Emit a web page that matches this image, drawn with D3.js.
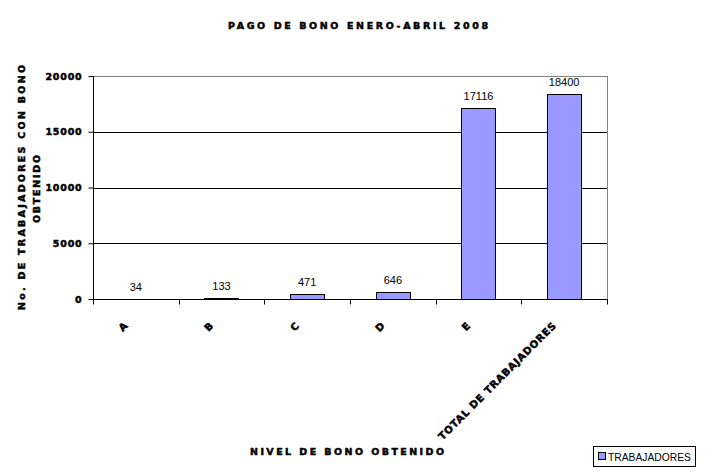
<!DOCTYPE html>
<html>
<head>
<meta charset="utf-8">
<script src="https://cdn.jsdelivr.net/npm/d3@7/dist/d3.min.js"></script>
<style>
  html, body { margin: 0; padding: 0; background: #fff; }
  svg { display: block; }
  .bold { font-family: "DejaVu Sans", sans-serif; font-weight: 900; stroke: #000; stroke-width: 0.5px; fill: #000; }
  .reg { font-family: "Liberation Sans", Arial, sans-serif; }
</style>
</head>
<body>
<svg id="chart" width="716" height="473"></svg>
<script>
const categories = ["A", "B", "C", "D", "E", "TOTAL DE TRABAJADORES"];
const values = [34, 133, 471, 646, 17116, 18400];
const yTicks = [0, 5000, 10000, 15000, 20000];
const seriesName = "TRABAJADORES";
const title = "PAGO DE BONO ENERO-ABRIL 2008";
const yTitle = ["No. DE TRABAJADORES CON BONO", "OBTENIDO"];
const xTitle = "NIVEL DE BONO OBTENIDO";

const svg = d3.select("#chart");
const L = 93, R = 607, T = 76, B = 299;

const x = d3.scaleBand().domain(categories).range([L, R]).paddingInner(0.6).paddingOuter(0.3);
const xc = d3.scaleBand().domain(categories).range([L, R]);
const y = d3.scaleLinear().domain([0, 20000]).range([B, T]);

// plot border (gray top/right)
svg.append("line").attr("x1", L).attr("x2", R).attr("y1", T + 0.5).attr("y2", T + 0.5).attr("stroke", "#808080");
svg.append("line").attr("x1", R + 0.5).attr("x2", R + 0.5).attr("y1", T).attr("y2", B).attr("stroke", "#808080");

// gridlines
svg.append("g").selectAll("line").data(yTicks.filter(d => d > 0 && d < 20000)).join("line")
  .attr("x1", L).attr("x2", R)
  .attr("y1", d => Math.round(y(d)) + 0.5).attr("y2", d => Math.round(y(d)) + 0.5)
  .attr("stroke", "#000");

// bars
svg.append("g").selectAll("rect").data(values).join("rect")
  .attr("x", (d, i) => Math.round(x(categories[i])) + 0.5)
  .attr("width", Math.round(x.bandwidth()))
  .attr("y", d => Math.round(y(d)) + 0.5)
  .attr("height", d => Math.max(0, Math.round(B - y(d))))
  .attr("fill", "#9999FF").attr("stroke", "#000").attr("stroke-width", 1);

// data labels
svg.append("g").selectAll("text").data(values).join("text")
  .attr("class", "reg")
  .attr("x", (d, i) => x(categories[i]) + x.bandwidth() / 2)
  .attr("y", d => y(d) - 8)
  .attr("text-anchor", "middle").attr("font-size", 11).attr("fill", "#000")
  .text(d => d);

// y axis
const yAxis = d3.axisLeft(y).tickValues(yTicks).tickSize(5).tickPadding(6).tickFormat(d3.format("d"));
const gy = svg.append("g").attr("transform", `translate(${L + 0.5},0)`).call(yAxis);
gy.select(".domain").attr("stroke", "#000").attr("d", `M0,${T}V${B + 0.5}`);
gy.selectAll(".tick line").attr("stroke", "#000");
gy.selectAll(".tick text").attr("class", "bold").attr("font-size", 9.5).attr("letter-spacing", 0.8);

// x axis
const xAxis = d3.axisBottom(xc).tickSize(5).tickFormat("").tickSizeOuter(0);
const gx = svg.append("g").attr("transform", `translate(0,${B + 0.5})`).call(xAxis);
gx.selectAll(".tick").remove();
gx.select(".domain").attr("stroke", "#000").attr("d", `M${L},0H${R + 1}`);
const bounds = categories.map(c => xc(c)).concat([R]);
gx.selectAll("line.bt").data(bounds).join("line").attr("class", "bt")
  .attr("x1", d => Math.round(d) + 0.5).attr("x2", d => Math.round(d) + 0.5)
  .attr("y1", 0).attr("y2", 5).attr("stroke", "#000");

// x labels rotated
svg.append("g").selectAll("text").data(categories).join("text")
  .attr("class", "bold").attr("font-size", 10).attr("letter-spacing", 0.8)
  .attr("text-anchor", "end")
  .attr("transform", d => `translate(${xc(d) + xc.bandwidth() / 2 - 7},${326}) rotate(-45)`)
  .text(d => d);

// title
svg.append("text").attr("class", "bold").attr("font-size", 9.5)
  .attr("x", 228).attr("y", 29).attr("textLength", 260).attr("lengthAdjust", "spacing")
  .text(title);

// y title
svg.append("text").attr("class", "bold").attr("font-size", 9.5)
  .attr("text-anchor", "middle")
  .attr("transform", `translate(25,${187.5}) rotate(-90)`)
  .attr("textLength", 245).attr("lengthAdjust", "spacing")
  .text(yTitle[0]);
svg.append("text").attr("class", "bold").attr("font-size", 9.5)
  .attr("text-anchor", "middle")
  .attr("transform", `translate(40,${189}) rotate(-90)`)
  .attr("textLength", 68).attr("lengthAdjust", "spacing")
  .text(yTitle[1]);

// x title
svg.append("text").attr("class", "bold").attr("font-size", 9.5)
  .attr("x", 250).attr("y", 455).attr("textLength", 194).attr("lengthAdjust", "spacing")
  .text(xTitle);

// legend
const lg = svg.append("g");
lg.append("rect").attr("x", 593.5).attr("y", 446.5).attr("width", 102).attr("height", 20)
  .attr("fill", "#fff").attr("stroke", "#000");
lg.append("rect").attr("x", 598.5).attr("y", 452.5).attr("width", 7).attr("height", 7)
  .attr("fill", "#9999FF").attr("stroke", "#000");
lg.append("text").attr("class", "reg").attr("font-size", 11).attr("x", 608).attr("y", 461)
  .attr("textLength", 83).attr("lengthAdjust", "spacingAndGlyphs")
  .text(seriesName);
</script>
</body>
</html>
